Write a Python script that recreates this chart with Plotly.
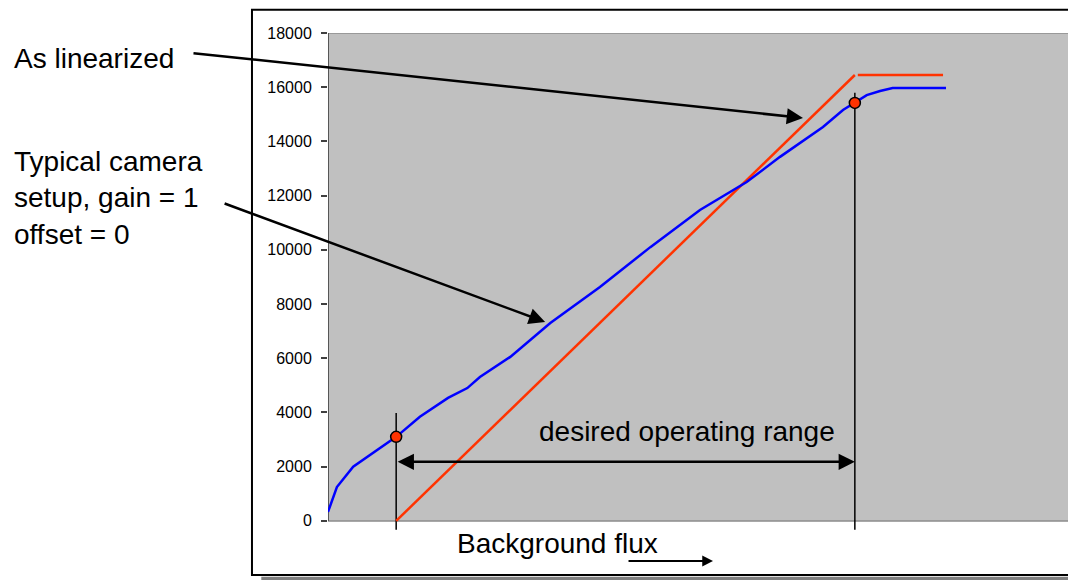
import plotly.graph_objects as go

# camera response curve (flux in arbitrary units, counts)
flux_camera = [0.0, 1.2, 3.4, 6.1, 9.2, 12.4, 16.2, 18.8, 20.5, 24.6, 30.0, 36.7, 43.5, 50.2,
               56.5, 61.0, 66.8, 69.5, 71.1, 72.7, 74.5, 76.2, 83.4]
counts_camera = [330, 1250, 2000, 2500, 3100, 3840, 4540, 4900, 5310, 6050, 7300, 8630, 10100,
                 11470, 12500, 13430, 14530, 15160, 15420, 15710, 15860, 15970, 15970]

# linearized response
flux_linear = [9.2, 71.1]
counts_linear = [0, 16450]
flux_saturated = [71.5, 83.0]
counts_saturated = [16450, 16450]

# operating range end points
range_flux = [9.2, 71.1]
range_counts = [3100, 15420]
range_line_top = [3980, 15800]
range_line_bottom = -330
range_arrow_counts = 2180

y_ticks = [0, 2000, 4000, 6000, 8000, 10000, 12000, 14000, 16000, 18000]

FONT = "Arial, Liberation Sans, sans-serif"
RED = "#FF3300"
BLUE = "#0000FF"
GRAY = "#C0C0C0"

fig = go.Figure()

# vertical markers of the operating range
for fx, top in zip(range_flux, range_line_top):
    fig.add_trace(go.Scatter(
        x=[fx, fx], y=[range_line_bottom, top],
        mode="lines", line=dict(color="black", width=1.5),
        showlegend=False, hoverinfo="skip",
    ))

fig.add_trace(go.Scatter(
    x=flux_linear, y=counts_linear, mode="lines",
    line=dict(color=RED, width=2.5), showlegend=False,
))
fig.add_trace(go.Scatter(
    x=flux_saturated, y=counts_saturated, mode="lines",
    line=dict(color=RED, width=2.5), showlegend=False,
))
fig.add_trace(go.Scatter(
    x=flux_camera, y=counts_camera, mode="lines",
    line=dict(color=BLUE, width=2.5), showlegend=False,
))
fig.add_trace(go.Scatter(
    x=range_flux, y=range_counts, mode="markers",
    marker=dict(color=RED, size=11, line=dict(color="black", width=1.5)),
    showlegend=False, cliponaxis=False,
))

shapes = [
    # outer frame shadow and frame
    dict(type="rect", xref="paper", yref="paper", x0=-0.09, x1=1.03, y0=-0.068, y1=-0.056,
         fillcolor="#808080", line_width=0, layer="below"),
    dict(type="rect", xref="paper", yref="paper", x0=-0.1026, x1=1.03, y0=-0.0524, y1=1.045,
         fillcolor="white", line=dict(color="black", width=2), layer="below"),
    # gray plot area
    dict(type="rect", xref="x", yref="y", x0=0, x1=100, y0=0, y1=18000,
         fillcolor=GRAY, line=dict(color="#8c8c8c", width=1.5), layer="below"),
    # y axis line
    dict(type="line", xref="x", yref="y", x0=0, x1=0, y0=0, y1=18000,
         line=dict(color="#404040", width=1.5), layer="below"),
]

annotations = [
    dict(text="As linearized", xref="paper", yref="paper", x=-0.427, y=0.951,
         xanchor="left", yanchor="middle", showarrow=False,
         font=dict(family=FONT, size=28, color="black")),
    dict(text="Typical camera<br>setup, gain = 1<br>offset = 0", xref="paper", yref="paper",
         x=-0.427, y=0.68, xanchor="left", yanchor="middle", align="left", showarrow=False,
         font=dict(family=FONT, size=28, color="black")),
    dict(text="", x=64.1, y=14865, xref="x", yref="y", ax=-611, ay=-65,
         showarrow=True, arrowhead=2, arrowsize=1.3, arrowwidth=2.5, arrowcolor="black",
         standoff=0),
    dict(text="", x=29.3, y=7340, xref="x", yref="y", ax=-322, ay=-119,
         showarrow=True, arrowhead=2, arrowsize=1.3, arrowwidth=2.5, arrowcolor="black",
         standoff=0),
    dict(text="", x=range_flux[1], y=range_arrow_counts, xref="x", yref="y",
         ax=range_flux[0], ay=range_arrow_counts, axref="x", ayref="y",
         showarrow=True, arrowhead=2, startarrowhead=2, arrowside="end+start",
         arrowsize=1.3, startarrowsize=1.3, arrowwidth=2.5, arrowcolor="black",
         standoff=0, startstandoff=0),
    dict(text="desired operating range", x=48.4, y=3300, xref="x", yref="y",
         showarrow=False, font=dict(family=FONT, size=28, color="black")),
    dict(text="Background flux", x=31.0, y=-830, xref="x", yref="y",
         showarrow=False, font=dict(family=FONT, size=28, color="black")),
    dict(text="", x=0.5196, y=-0.0252, xref="paper", yref="paper", ax=-86, ay=0,
         showarrow=True, arrowhead=2, arrowsize=1.2, arrowwidth=1.8, arrowcolor="black",
         standoff=0),
]

# margins compensate for the 8px default body margin of the page
fig.update_layout(
    width=1076, height=580, autosize=False,
    paper_bgcolor="white", plot_bgcolor="rgba(0,0,0,0)",
    margin=dict(l=320, r=15, t=25, b=40),
    font=dict(family=FONT, color="black"),
    showlegend=False,
    shapes=shapes,
    annotations=annotations,
    xaxis=dict(range=[0, 100], visible=False, fixedrange=True),
    yaxis=dict(
        range=[-1000, 18000], tickvals=y_ticks, tickformat="d", showgrid=False,
        zeroline=False, showline=False, ticks="outside", ticklen=6, tickwidth=1.5,
        tickcolor="#404040", tickfont=dict(family=FONT, size=16, color="black"),
        ticklabelstandoff=6, fixedrange=True,
    ),
)

fig.write_html("out.html")
